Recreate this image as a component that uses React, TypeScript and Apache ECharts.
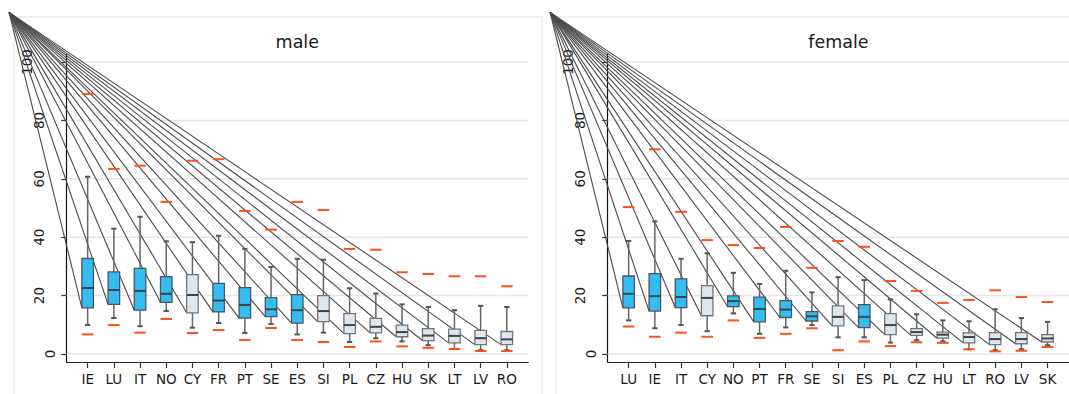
import React, { useEffect, useRef } from 'react';
import * as echarts from 'echarts';

// ---- male panel ----
const maleCountries = ['IE', 'LU', 'IT', 'NO', 'CY', 'FR', 'PT', 'SE', 'ES', 'SI', 'PL', 'CZ', 'HU', 'SK', 'LT', 'LV', 'RO'];
const maleLow = [9.9, 12.3, 9.5, 14.7, 9.0, 10.6, 7.2, 10.3, 6.7, 7.3, 4.1, 5.4, 4.3, 3.0, 1.7, 1.3, 1.3];
const maleQ1 = [15.8, 17.0, 15.0, 17.7, 14.1, 14.4, 12.3, 12.8, 10.6, 11.1, 7.0, 7.2, 5.9, 4.6, 3.8, 3.2, 3.2];
const maleMedian = [22.6, 21.9, 21.6, 20.6, 20.2, 18.3, 16.8, 15.3, 15.0, 14.7, 9.9, 9.3, 7.5, 6.3, 6.2, 5.4, 5.0];
const maleQ3 = [32.7, 28.1, 29.3, 26.5, 27.2, 24.2, 22.7, 19.3, 20.3, 20.0, 13.8, 12.2, 9.9, 8.7, 8.5, 8.1, 7.7];
const maleHigh = [60.7, 42.9, 47.0, 38.6, 38.3, 40.5, 36.0, 29.8, 32.6, 32.3, 22.5, 20.7, 17.0, 16.1, 15.0, 16.5, 16.1];
const maleMarkHigh = [89.1, 63.4, 64.5, 52.1, 66.2, 66.7, 49.0, 42.6, 52.1, 49.3, 36.0, 35.7, 28.0, 27.4, 26.6, 26.6, 23.2];
const maleMarkLow = [6.7, 9.9, 7.3, 12.0, 7.2, 8.2, 4.8, 8.9, 4.8, 4.1, 2.4, 4.3, 2.6, 2.1, 1.7, 1.0, 1.0];
const maleHighlight = [1, 1, 1, 1, 0, 1, 1, 1, 1, 0, 0, 0, 0, 0, 0, 0, 0];

// ---- female panel ----
const femaleCountries = ['LU', 'IE', 'IT', 'CY', 'NO', 'PT', 'FR', 'SE', 'SI', 'ES', 'PL', 'CZ', 'HU', 'LT', 'RO', 'LV', 'SK'];
const femaleLow = [11.5, 8.8, 9.9, 7.8, 13.9, 6.9, 9.1, 9.9, 5.7, 5.7, 3.9, 4.7, 4.3, 1.6, 1.3, 1.6, 3.0];
const femaleQ1 = [15.8, 14.7, 15.9, 13.1, 16.2, 11.0, 12.5, 11.3, 9.6, 9.0, 6.6, 6.4, 5.4, 3.8, 3.2, 3.5, 4.1];
const femaleMedian = [20.6, 19.8, 19.5, 19.2, 18.1, 15.4, 15.2, 12.9, 12.7, 12.7, 9.9, 7.5, 6.6, 5.8, 5.1, 5.1, 5.3];
const femaleQ3 = [26.7, 27.5, 25.7, 23.4, 19.9, 19.5, 18.3, 14.5, 16.5, 16.9, 13.8, 8.7, 7.5, 7.2, 7.3, 7.3, 6.6];
const femaleHigh = [38.7, 45.4, 32.6, 34.5, 27.8, 24.0, 28.5, 21.1, 26.3, 25.3, 18.7, 13.6, 11.5, 11.2, 15.3, 12.3, 11.0];
const femaleMarkHigh = [50.3, 70.1, 48.7, 39.0, 37.3, 36.3, 43.5, 29.5, 38.7, 36.7, 25.0, 21.6, 17.5, 18.5, 21.8, 19.5, 17.8];
const femaleMarkLow = [9.4, 5.9, 7.3, 5.9, 11.5, 5.5, 6.9, 8.8, 1.3, 4.3, 2.7, 4.0, 3.8, 1.6, 0.9, 1.1, 2.4];
const femaleHighlight = [1, 1, 1, 0, 1, 1, 1, 1, 0, 1, 0, 0, 0, 0, 0, 0, 0];

const yTicks = [0, 20, 40, 60, 80, 100];
// common origin of the guide lines that run to each box's lower-left corner
const FAN_ORIGIN = [-3, 117];

const FONT = 'DejaVu Sans';
const TEXT = '#1a1a1a';
const BLUE = '#34bdf0';
const LIGHT = '#dfe7ee';
const ORANGE = '#ff5212';
const BOX_HALF = 0.22;
const CAP_HALF = 0.1;

type PanelData = {
  countries: string[];
  low: number[];
  q1: number[];
  median: number[];
  q3: number[];
  high: number[];
  markLow: number[];
  markHigh: number[];
  highlight: number[];
};

const panels: PanelData[] = [
  { countries: maleCountries, low: maleLow, q1: maleQ1, median: maleMedian, q3: maleQ3, high: maleHigh, markLow: maleMarkLow, markHigh: maleMarkHigh, highlight: maleHighlight },
  { countries: femaleCountries, low: femaleLow, q1: femaleQ1, median: femaleMedian, q3: femaleQ3, high: femaleHigh, markLow: femaleMarkLow, markHigh: femaleMarkHigh, highlight: femaleHighlight },
];

function panelSeries(pi: number, p: PanelData): any[] {
  const idx = p.countries.map((_, i) => i);
  const base = { type: 'custom', xAxisIndex: pi, yAxisIndex: pi, clip: false, silent: true };
  return [
    // horizontal grid lines
    {
      ...base,
      data: yTicks.map((v) => [0, v]),
      renderItem: (params: any, api: any) => {
        const cs = params.coordSys;
        const y = api.coord([0, api.value(1)])[1];
        return {
          type: 'line',
          shape: { x1: cs.x, y1: y, x2: cs.x + cs.width, y2: y },
          style: { stroke: '#e6e6e6', lineWidth: 1.5 },
        };
      },
    },
    // rotated y tick labels
    {
      ...base,
      data: yTicks.map((v) => [0, v]),
      renderItem: (params: any, api: any) => {
        const cs = params.coordSys;
        const v = api.value(1);
        const label = String(v);
        const y = api.coord([0, v])[1];
        return {
          type: 'text',
          x: cs.x - (5 + 11.5 * label.length),
          y,
          rotation: Math.PI / 2,
          style: { text: label, align: 'center', verticalAlign: 'middle', fontSize: 13.5, fontFamily: FONT, fill: TEXT },
        };
      },
    },
    // guide lines from the common origin to each box's lower-left corner
    {
      ...base,
      data: idx.map((i) => [i, p.q1[i]]),
      renderItem: (_params: any, api: any) => {
        const a = api.coord(FAN_ORIGIN);
        const b = api.coord([api.value(0) - BOX_HALF, api.value(1)]);
        return {
          type: 'line',
          shape: { x1: a[0], y1: a[1], x2: b[0], y2: b[1] },
          style: { stroke: '#4a4a4a', lineWidth: 1.1 },
        };
      },
    },
    // box plots
    {
      ...base,
      data: idx.map((i) => [i, p.low[i], p.q1[i], p.median[i], p.q3[i], p.high[i], p.highlight[i]]),
      renderItem: (_params: any, api: any) => {
        const x = api.value(0);
        const lo = api.coord([x, api.value(1)]);
        const q1 = api.coord([x - BOX_HALF, api.value(2)]);
        const med = api.coord([x, api.value(3)]);
        const q3 = api.coord([x + BOX_HALF, api.value(4)]);
        const hi = api.coord([x, api.value(5)]);
        const capL = api.coord([x - CAP_HALF, 0])[0];
        const capR = api.coord([x + CAP_HALF, 0])[0];
        const cx = med[0];
        const hl = api.value(6) === 1;
        const whisker = { stroke: '#666', lineWidth: 1.5 };
        const cap = { stroke: '#555', lineWidth: 2 };
        return {
          type: 'group',
          children: [
            { type: 'line', shape: { x1: cx, y1: q3[1], x2: cx, y2: hi[1] }, style: whisker },
            { type: 'line', shape: { x1: cx, y1: q1[1], x2: cx, y2: lo[1] }, style: whisker },
            { type: 'line', shape: { x1: capL, y1: hi[1], x2: capR, y2: hi[1] }, style: cap },
            { type: 'line', shape: { x1: capL, y1: lo[1], x2: capR, y2: lo[1] }, style: cap },
            {
              type: 'rect',
              shape: { x: q1[0], y: q3[1], width: q3[0] - q1[0], height: q1[1] - q3[1] },
              style: { fill: hl ? BLUE : LIGHT, stroke: hl ? '#4a5660' : '#6f767c', lineWidth: 1.3 },
            },
            { type: 'line', shape: { x1: q1[0], y1: med[1], x2: q3[0], y2: med[1] }, style: { stroke: '#404448', lineWidth: 2 } },
          ],
        };
      },
    },
    // orange reference marks above and below each box
    {
      ...base,
      data: idx.map((i) => [i, p.markLow[i], p.markHigh[i]]),
      renderItem: (_params: any, api: any) => {
        const x = api.value(0);
        const l = api.coord([x - BOX_HALF, api.value(1)]);
        const h = api.coord([x - BOX_HALF, api.value(2)]);
        const r = api.coord([x + BOX_HALF, 0])[0];
        const s = { stroke: ORANGE, lineWidth: 2 };
        return {
          type: 'group',
          children: [
            { type: 'line', shape: { x1: l[0], y1: l[1], x2: r, y2: l[1] }, style: s },
            { type: 'line', shape: { x1: h[0], y1: h[1], x2: r, y2: h[1] }, style: s },
          ],
        };
      },
    },
  ];
}

const grids = [
  { left: 66.7, top: 54, width: 461.6, height: 308 },
  { left: 607.7, top: 54, width: 461.3, height: 308 },
];

export default function App() {
  const ref = useRef<HTMLDivElement>(null);

  useEffect(() => {
    if (!ref.current) return;
    const chart = echarts.init(ref.current, undefined, { renderer: 'svg' });
    const catIdx = maleCountries.map((_, i) => i);

    const option: any = {
      animation: false,
      backgroundColor: '#ffffff',
      textStyle: { fontFamily: FONT },
      grid: grids,
      xAxis: panels.map((p, i) => ({
        gridIndex: i,
        type: 'value',
        min: -0.8,
        max: 16.82,
        axisLine: { show: true, onZero: false, lineStyle: { color: '#222', width: 1.2 } },
        axisTick: { show: true, customValues: catIdx, length: 6, lineStyle: { color: '#333', width: 1.2 } },
        axisLabel: {
          customValues: catIdx,
          formatter: (v: number) => p.countries[Math.round(v)] ?? '',
          fontSize: 13.5,
          fontFamily: FONT,
          color: TEXT,
          margin: 10,
        },
        splitLine: { show: false },
      })),
      yAxis: panels.map((_, i) => ({
        gridIndex: i,
        type: 'value',
        min: -2.75,
        max: 102.75,
        axisLine: { show: true, onZero: false, lineStyle: { color: '#111', width: 1.2 } },
        axisTick: { show: true, customValues: yTicks, length: 5.5, lineStyle: { color: '#333', width: 1.2 } },
        axisLabel: { show: false },
        splitLine: { show: false },
      })),
      graphic: [
        { type: 'rect', silent: true, shape: { x: 14, y: 17, width: 528, height: 420 }, style: { fill: 'none', stroke: '#ececec', lineWidth: 1.5 }, z: -10 },
        { type: 'rect', silent: true, shape: { x: 556, y: 17, width: 560, height: 420 }, style: { fill: 'none', stroke: '#ececec', lineWidth: 1.5 }, z: -10 },
        { type: 'text', silent: true, x: 297.3, y: 41.7, style: { text: 'male', align: 'center', verticalAlign: 'middle', fontSize: 17.5, fontFamily: FONT, fill: TEXT } },
        { type: 'text', silent: true, x: 838.4, y: 41.7, style: { text: 'female', align: 'center', verticalAlign: 'middle', fontSize: 17.5, fontFamily: FONT, fill: TEXT } },
      ],
      series: [...panelSeries(0, panels[0]), ...panelSeries(1, panels[1])],
    };

    chart.setOption(option);
    return () => chart.dispose();
  }, []);

  return <div ref={ref} style={{ position: 'absolute', left: 0, top: 0, width: 1069, height: 394 }} />;
}
